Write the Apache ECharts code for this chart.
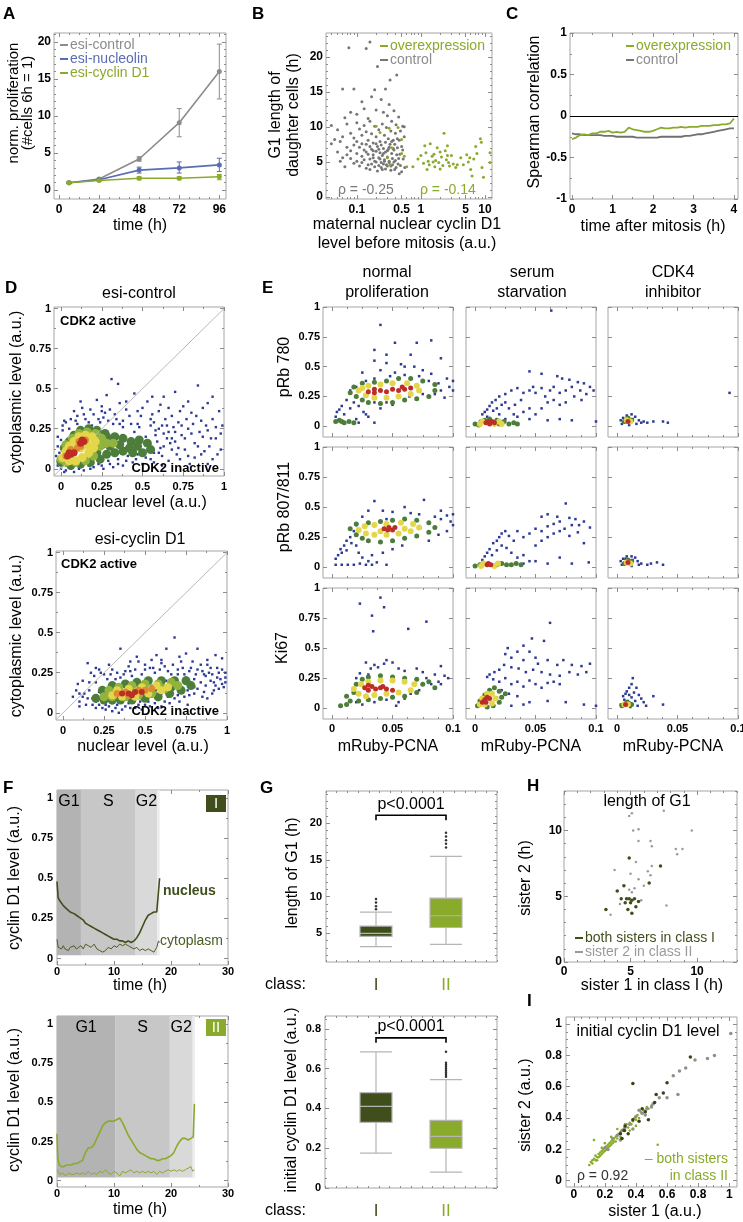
<!DOCTYPE html>
<html><head><meta charset="utf-8">
<script src="https://cdn.jsdelivr.net/npm/echarts@6.0.0/dist/echarts.min.js"></script>
<style>html,body{margin:0;padding:0;background:#fff;}#chart{width:743px;height:1222px;}</style>
</head><body><div id="chart"></div>
<script>
// ================= DATA =================
// A
const timeA = [6, 24, 48, 72, 96];
const ctrlA = [1, 1.5, 4.2, 9.1, 16.0];
const ctrlLoA = [0.9, 1.4, 3.9, 7.2, 12.3];
const ctrlHiA = [1.1, 1.6, 4.5, 11.0, 19.7];
const nucA = [1, 1.4, 2.7, 3.0, 3.4];
const nucLoA = [0.9, 1.3, 2.3, 2.3, 2.5];
const nucHiA = [1.1, 1.5, 3.1, 3.8, 4.3];
const cycA = [1, 1.3, 1.6, 1.6, 1.8];
const cycLoA = [0.9, 1.2, 1.4, 1.4, 1.4];
const cycHiA = [1.1, 1.4, 1.8, 1.8, 2.1];
const ticksAx = [0, 24, 48, 72, 96];
const ticksAy = [0, 5, 10, 15, 20];
// B
const ctrlB = [[0.16,22.1],[0.14,21.2],[0.075,21.3],[0.21,18.6],[0.42,17.4],[0.33,16.7],[0.06,15.4],[0.09,15.4],[0.19,15.3],[0.28,15.4],[0.17,14.3],[0.12,13.6],[0.24,13.9],[0.32,13.2],[0.38,12.3],[0.45,11.4],[0.52,10.1],[0.04,10.2],[0.05,9.6],[0.045,8.2],[0.04,7.6],[0.055,7.9],[0.065,11.3],[0.08,12.1],[0.1,11.8],[0.13,12.6],[0.15,11.2],[0.2,12.4],[0.26,12.1],[0.3,11.6],[0.35,10.8],[0.41,10.3],[0.48,9.4],[0.55,8.6],[0.5,7.2],[0.47,6.1],[0.53,5.4],[0.44,4.7],[0.5,3.6],[0.39,3.9],
[0.07,10.4],[0.08,9.1],[0.09,8.4],[0.1,10.6],[0.11,9.7],[0.12,8.8],[0.13,10.2],[0.14,9.3],[0.15,8.1],[0.16,10.8],[0.17,9.0],[0.18,7.7],[0.19,10.1],[0.2,8.6],[0.22,9.6],[0.23,7.9],[0.25,10.4],[0.27,8.8],[0.29,9.9],[0.31,8.3],[0.34,9.4],[0.37,8.1],[0.4,9.1],[0.43,8.3],
[0.06,8.6],[0.07,7.1],[0.08,6.6],[0.09,7.4],[0.1,6.2],[0.11,7.1],[0.12,5.8],[0.13,6.7],[0.14,7.5],[0.15,6.1],[0.16,5.4],[0.17,6.8],[0.18,6.0],[0.19,5.1],[0.2,6.5],[0.21,7.2],[0.22,5.6],[0.23,6.3],[0.24,4.9],[0.25,5.9],[0.26,6.9],[0.27,5.3],[0.28,6.4],[0.29,4.6],[0.3,5.7],[0.31,6.8],[0.32,5.1],[0.33,7.5],[0.34,4.4],[0.35,6.2],[0.36,5.5],[0.38,6.7],[0.4,5.2],[0.42,6.0],[0.45,5.5],[0.48,4.5],
[0.08,5.5],[0.09,4.8],[0.1,5.1],[0.11,4.4],[0.12,4.9],[0.13,5.3],[0.14,4.1],[0.15,4.6],[0.16,3.9],[0.17,4.7],[0.18,5.6],[0.19,4.3],[0.2,5.0],[0.21,3.7],[0.22,4.5],[0.23,5.4],[0.24,4.2],[0.25,3.9],[0.26,4.7],[0.27,5.1],[0.28,4.0],[0.3,4.4],[0.32,4.9],[0.34,3.8],[0.36,4.6],[0.38,5.0],[0.41,4.2],[0.46,3.3],
[0.05,6.4],[0.06,5.6],[0.07,6.0],[0.055,5.1],[0.065,4.3],
[0.1,7.9],[0.12,7.6],[0.14,6.4],[0.16,7.2],[0.18,6.6],[0.2,7.6],[0.22,6.8],[0.24,7.4],[0.26,6.2],[0.28,7.8],[0.3,6.6],[0.32,7.1],[0.35,7.9],[0.37,6.9],[0.39,7.5],[0.43,7.0],[0.46,8.1],[0.52,6.7],[0.56,4.2],[0.55,10.0]];
const overB = [[0.2,10.1],[0.23,9.2],[0.32,9.8],[0.44,9.9],[0.5,8.2],[0.35,7.0],[0.5,6.2],[0.55,5.8],[0.33,4.6],[0.6,4.3],[0.3,5.6],
[0.75,4.3],[0.9,5.4],[1.0,5.9],[1.1,4.8],[1.15,7.3],[1.2,6.3],[1.3,5.1],[1.35,4.6],[1.4,7.6],[1.5,5.8],[1.6,6.1],[1.65,4.3],[1.7,5.2],[1.8,7.0],[1.9,4.9],[2.0,6.4],[2.1,5.7],[2.2,4.5],[2.3,9.1],[2.4,6.6],[2.5,5.3],[2.6,7.3],[2.7,4.9],[2.8,4.4],[3.0,5.9],[3.2,4.7],[3.5,4.2],[4.2,5.6],[4.6,4.6],[5.2,6.0],[5.5,5.0],[5.8,5.6],[6.0,3.9],[6.3,3.0],[6.7,5.4],[7.2,7.2],[7.5,6.2],[8.5,8.3],[8.8,7.8],[9.5,2.8],[9.0,4.2],[12.0,6.3],[12.0,4.9],[1.25,3.9],[1.55,5.0],[2.0,4.0],[2.6,5.9],[3.7,4.6]];
const ticksBx = [0.1, 0.5, 1, 5, 10];
const ticksBy = [0, 5, 10, 15, 20];
// C
const timeC = [0,0.1,0.2,0.3,0.4,0.5,0.6,0.7,0.8,0.9,1.0,1.1,1.2,1.3,1.4,1.5,1.6,1.7,1.8,1.9,2.0,2.1,2.2,2.3,2.4,2.5,2.6,2.7,2.8,2.9,3.0,3.1,3.2,3.3,3.4,3.5,3.6,3.7,3.8,3.9,4.0];
const overC = [-0.28,-0.26,-0.23,-0.22,-0.23,-0.21,-0.21,-0.19,-0.19,-0.18,-0.2,-0.19,-0.2,-0.19,-0.14,-0.16,-0.17,-0.18,-0.19,-0.19,-0.18,-0.16,-0.14,-0.15,-0.15,-0.14,-0.14,-0.13,-0.14,-0.13,-0.13,-0.13,-0.12,-0.12,-0.12,-0.11,-0.11,-0.1,-0.1,-0.09,-0.03];
const ctrlC = [-0.21,-0.22,-0.22,-0.23,-0.23,-0.23,-0.23,-0.23,-0.24,-0.24,-0.24,-0.25,-0.25,-0.25,-0.25,-0.25,-0.26,-0.26,-0.26,-0.26,-0.26,-0.26,-0.25,-0.25,-0.25,-0.25,-0.25,-0.25,-0.24,-0.24,-0.23,-0.22,-0.22,-0.21,-0.2,-0.19,-0.18,-0.17,-0.16,-0.15,-0.15];
const ticksCx = [0, 1, 2, 3, 4];
const ticksCy = [-1, -0.5, 0, 0.5, 1];
// D
const ticksD = [0, 0.25, 0.5, 0.75, 1];
const dCtrlBlue = [[0.31,0.56],[0.35,0.53],[0.22,0.43],[0.12,0.42],[0.56,0.45],[0.84,0.52],[0.9,0.41],[0.7,0.48],[0.63,0.45],[0.45,0.47],[0.28,0.46],[0.4,0.42],[0.75,0.39],[0.97,0.36],[0.18,0.37],[0.08,0.36],[0.3,0.37],[0.5,0.38],[0.6,0.36],[0.8,0.35],[0.93,0.31],[0.68,0.33],[0.55,0.31],[0.42,0.33],[0.34,0.31],[0.03,0.29],[0.01,0.24],[-0.02,0.2],[0.26,0.32],[0.15,0.31],[0.86,0.3],[0.99,0.27],[0.72,0.29],[0.47,0.28],[0.62,0.27],[0.78,0.25],[0.9,0.24],[0.95,0.19],[0.87,0.2],[0.82,0.16],[0.74,0.21],[0.66,0.23],[0.58,0.24],[0.7,0.17],[0.63,0.14],[0.76,0.12],[0.88,0.11],[0.98,0.12],[0.93,0.06],[0.82,0.07],[0.71,0.09],[0.6,0.1],[0.66,0.05],[0.55,0.06],[0.5,0.03],[0.44,0.04],[0.38,0.02],[0.32,0.01],[0.26,0.0],[0.2,0.01],[0.14,-0.01],[0.08,-0.02],[0.02,-0.02],[-0.02,0.02],[-0.03,0.08],[-0.02,0.14],[0.03,-0.01],[0.11,0.0],[0.17,0.02],[0.23,0.03],[0.29,0.05],[0.35,0.06],[0.41,0.08],[0.47,0.09],[0.53,0.12],[0.59,0.17],[0.65,0.19],[0.52,0.2],[0.45,0.23],[0.38,0.26],[0.32,0.28],[0.24,0.29],[0.19,0.27],[0.1,0.28],[0.05,0.25],[0.0,0.18],[-0.01,0.1],[0.57,0.29],[0.49,0.33],[0.81,0.28],[0.69,0.26],[0.91,0.14],[0.85,0.23],[0.77,0.31],[0.64,0.31],[0.4,0.37],[0.53,0.42],[0.36,0.41],[0.25,0.39],[0.61,0.4],[0.73,0.36],[0.87,0.38],[0.98,0.22],[0.96,0.09],[0.9,0.03],[0.79,0.03],[0.62,0.02],
[0.02,0.3],[0.06,0.31],[0.1,0.33],[0.14,0.34],[0.2,0.34],[0.27,0.35],[0.33,0.34],[0.38,0.3],[0.43,0.28],[0.48,0.26],[0.55,0.27],[0.6,0.25],[0.65,0.27],[0.7,0.23],[0.76,0.19],[0.8,0.22],[0.84,0.14],[0.86,0.09],[0.78,0.08],[0.73,0.06],[0.68,0.12],[0.62,0.08],[0.57,0.04],[0.52,0.07],[0.46,0.06],[0.4,0.05],[0.35,0.03],[0.3,0.03],[0.25,0.02],[0.18,0.0],[0.12,0.01],[0.06,0.0],[0.0,0.0],[-0.02,0.05],[0.01,0.27],[0.09,0.3],[0.17,0.29],[0.23,0.31],[0.29,0.3],[0.36,0.28],[0.58,0.21],[0.63,0.22],[0.68,0.19],[0.72,0.13],[0.67,0.16],[0.61,0.13],[0.57,0.1],[0.92,0.19],[0.95,0.26],[0.89,0.27],[0.83,0.33],[0.74,0.27],[0.47,0.36],[0.56,0.34],[0.66,0.38],[0.78,0.42],[0.93,0.45],[0.25,0.36],[0.13,0.38]];
const dCtrlGreen = [[0.0,0.04],[0.02,0.13],[0.05,0.17],[0.08,0.21],[0.12,0.24],[0.17,0.25],[0.22,0.24],[0.27,0.22],[0.3,0.18],[0.33,0.2],[0.38,0.19],[0.43,0.17],[0.48,0.18],[0.53,0.16],[0.55,0.12],[0.5,0.1],[0.44,0.1],[0.38,0.11],[0.33,0.1],[0.28,0.09],[0.24,0.06],[0.18,0.04],[0.12,0.03],[0.06,0.02],[0.3,0.14],[0.36,0.15],[0.42,0.13],[0.47,0.14],[0.25,0.15],[0.22,0.1],[0.28,0.2]];
const dCtrlLight = [[0.0,0.06],[0.03,0.15],[0.07,0.19],[0.11,0.22],[0.16,0.23],[0.21,0.22],[0.25,0.19],[0.24,0.14],[0.2,0.08],[0.15,0.05],[0.09,0.04],[0.03,0.04],[0.28,0.16],[0.32,0.16]];
const dCtrlYellow = [[0.01,0.07],[0.03,0.11],[0.05,0.14],[0.08,0.17],[0.11,0.2],[0.15,0.21],[0.19,0.2],[0.21,0.17],[0.2,0.13],[0.17,0.1],[0.13,0.07],[0.09,0.05],[0.05,0.05],[0.12,0.13],[0.16,0.15],[0.07,0.1]];
const dCtrlOrange = [[0.03,0.08],[0.07,0.1],[0.1,0.13],[0.12,0.14],[0.15,0.18],[0.11,0.17],[0.06,0.12]];
const dCtrlRed = [[0.04,0.08],[0.06,0.09],[0.05,0.1],[0.12,0.16],[0.14,0.17],[0.13,0.18],[0.08,0.1]];
const dCycBlue = [[0.68,0.47],[0.63,0.4],[0.82,0.4],[0.35,0.4],[0.15,0.31],[0.45,0.35],[0.57,0.36],[0.93,0.36],[0.97,0.34],[0.75,0.37],[0.88,0.33],[0.72,0.32],[0.6,0.31],[0.5,0.3],[0.4,0.29],[0.3,0.27],[0.22,0.27],[0.17,0.25],[0.12,0.2],[0.08,0.14],[0.06,0.1],[0.1,0.07],[0.14,0.05],[0.2,0.03],[0.26,0.02],[0.32,0.03],[0.38,0.04],[0.44,0.03],[0.5,0.05],[0.56,0.06],[0.62,0.07],[0.68,0.09],[0.74,0.1],[0.8,0.12],[0.86,0.13],[0.92,0.14],[0.98,0.16],[0.99,0.22],[0.95,0.25],[0.9,0.28],[0.84,0.3],[0.78,0.28],[0.7,0.27],[0.64,0.26],[0.56,0.25],[0.48,0.24],[0.42,0.23],[0.35,0.22],[0.27,0.21],[0.2,0.19],[0.16,0.14],[0.18,0.09],[0.24,0.07],[0.3,0.06],[0.36,0.07],[0.42,0.08],[0.48,0.09],[0.54,0.1],[0.6,0.12],[0.66,0.13],[0.72,0.15],[0.78,0.17],[0.84,0.19],[0.9,0.2],[0.96,0.21],[0.93,0.17],[0.87,0.23],[0.81,0.24],[0.75,0.22],[0.69,0.21],[0.63,0.2],[0.57,0.19],[0.51,0.19],[0.45,0.18],[0.39,0.17],[0.33,0.17],[0.27,0.15],[0.22,0.13],[0.25,0.24],[0.33,0.25],[0.38,0.26],[0.53,0.28],[0.67,0.3],[0.74,0.24],[0.85,0.26],[0.97,0.27],[0.91,0.24],[0.8,0.21],[0.58,0.03],[0.46,0.05],[0.34,0.0],[0.28,0.04],[0.22,0.05],[0.12,0.1],[0.09,0.18],[0.6,0.33],[0.46,0.32],[0.1,0.12],[0.76,0.05],[0.88,0.09],
[0.1,0.04],[0.13,0.12],[0.16,0.19],[0.19,0.23],[0.23,0.25],[0.29,0.24],[0.32,0.21],[0.37,0.24],[0.41,0.26],[0.44,0.27],[0.5,0.27],[0.55,0.28],[0.59,0.27],[0.62,0.29],[0.66,0.24],[0.7,0.24],[0.73,0.28],[0.77,0.26],[0.82,0.27],[0.86,0.24],[0.89,0.25],[0.94,0.22],[0.97,0.18],[0.99,0.19],[0.95,0.15],[0.91,0.12],[0.85,0.1],[0.82,0.15],[0.77,0.11],[0.71,0.07],[0.65,0.06],[0.6,0.04],[0.53,0.04],[0.48,0.02],[0.41,0.03],[0.36,0.02],[0.3,0.01],[0.24,0.03],[0.18,0.05],[0.15,0.09],[0.2,0.07],[0.26,0.05],[0.33,0.05],[0.4,0.06],[0.47,0.07],[0.52,0.07],[0.58,0.08],[0.64,0.1],[0.7,0.11],[0.76,0.14],[0.8,0.16],[0.87,0.17],[0.92,0.19],[0.99,0.25],[0.94,0.28],[0.88,0.3],[0.79,0.32],[0.71,0.35],[0.54,0.33],[0.41,0.32],[0.28,0.3],[0.2,0.28]];
const dCycGreen = [[0.2,0.09],[0.25,0.08],[0.3,0.08],[0.35,0.08],[0.42,0.08],[0.5,0.09],[0.58,0.1],[0.65,0.12],[0.72,0.14],[0.78,0.17],[0.75,0.2],[0.68,0.2],[0.6,0.2],[0.52,0.2],[0.45,0.19],[0.38,0.18],[0.3,0.17],[0.24,0.14],[0.27,0.12],[0.4,0.13],[0.55,0.15],[0.66,0.16]];
const dCycLight = [[0.25,0.1],[0.3,0.1],[0.38,0.1],[0.46,0.11],[0.54,0.12],[0.62,0.15],[0.7,0.17],[0.66,0.19],[0.58,0.18],[0.5,0.18],[0.42,0.17],[0.34,0.16],[0.28,0.14]];
const dCycYellow = [[0.3,0.11],[0.36,0.1],[0.44,0.1],[0.52,0.12],[0.6,0.14],[0.64,0.16],[0.57,0.17],[0.48,0.16],[0.4,0.15],[0.33,0.14],[0.45,0.13]];
const dCycOrange = [[0.33,0.12],[0.38,0.13],[0.46,0.14],[0.5,0.14],[0.54,0.15],[0.4,0.11]];
const dCycRed = [[0.36,0.12],[0.4,0.12],[0.44,0.13],[0.48,0.13],[0.42,0.11]];
// E
const ticksEx = [0, 0.05, 0.1];
const ticksEy = [0, 0.25, 0.5, 0.75, 1];
const e780NormBlue = [[0.04,0.85],[0.052,0.7],[0.035,0.64],[0.07,0.7],[0.082,0.72],[0.045,0.6],[0.065,0.6],[0.057,0.52],[0.06,0.5],[0.09,0.57],[0.045,0.53],[0.035,0.55],[0.025,0.45],[0.04,0.47],[0.052,0.45],[0.068,0.5],[0.075,0.47],[0.082,0.44],[0.095,0.4],[0.1,0.38],[0.088,0.36],[0.097,0.33],[0.09,0.3],[0.08,0.38],[0.072,0.42],[0.06,0.43],[0.048,0.42],[0.035,0.4],[0.028,0.38],[0.02,0.33],[0.015,0.3],[0.012,0.22],[0.008,0.17],[0.004,0.12],[0.003,0.08],[0.006,0.14],[0.01,0.1],[0.015,0.15],[0.018,0.2],[0.022,0.17],[0.026,0.12],[0.03,0.08],[0.035,0.2],[0.04,0.15],[0.045,0.2],[0.05,0.18],[0.022,0.03],[0.035,0.03],[0.064,0.25],[0.075,0.27],[0.085,0.27],[0.093,0.24],[0.1,0.3],[0.02,0.06],[0.028,0.1]];
const e780NormGreen = [[0.015,0.28],[0.02,0.25],[0.025,0.22],[0.03,0.2],[0.04,0.19],[0.05,0.2],[0.06,0.22],[0.07,0.23],[0.08,0.25],[0.085,0.3],[0.085,0.35],[0.075,0.38],[0.065,0.4],[0.055,0.4],[0.045,0.38],[0.035,0.37],[0.025,0.36],[0.018,0.33],[0.003,0.04],[0.006,0.05],[0.01,0.03],[0.014,0.04],[0.018,0.03],[0.008,0.04]];
const e780NormYellow = [[0.022,0.3],[0.028,0.26],[0.035,0.24],[0.045,0.24],[0.055,0.25],[0.065,0.27],[0.072,0.3],[0.07,0.34],[0.062,0.36],[0.05,0.36],[0.04,0.35],[0.03,0.34],[0.025,0.32]];
const e780NormRed = [[0.03,0.29],[0.035,0.28],[0.04,0.3],[0.045,0.29],[0.05,0.31],[0.055,0.3],[0.06,0.31],[0.065,0.32],[0.035,0.31],[0.058,0.33]];
const e780SerumBlue = [[0.063,0.97],[0.045,0.46],[0.055,0.44],[0.068,0.42],[0.072,0.4],[0.078,0.39],[0.085,0.37],[0.09,0.36],[0.095,0.33],[0.098,0.3],[0.087,0.3],[0.08,0.33],[0.075,0.3],[0.07,0.28],[0.065,0.33],[0.062,0.3],[0.058,0.25],[0.055,0.32],[0.05,0.28],[0.048,0.33],[0.045,0.3],[0.04,0.28],[0.035,0.32],[0.03,0.3],[0.025,0.27],[0.02,0.25],[0.017,0.22],[0.014,0.2],[0.012,0.17],[0.01,0.14],[0.008,0.12],[0.006,0.1],[0.015,0.13],[0.018,0.15],[0.022,0.18],[0.025,0.2],[0.028,0.15],[0.032,0.1],[0.035,0.08],[0.04,0.12],[0.045,0.06],[0.05,0.1],[0.055,0.15],[0.06,0.2],[0.065,0.22],[0.07,0.18],[0.075,0.2],[0.082,0.25],[0.088,0.22],[0.092,0.27],[0.1,0.04],[0.06,0.05],[0.07,0.06],[0.08,0.05],[0.045,0.15],[0.038,0.22],[0.033,0.18],[0.02,0.1],[0.01,0.08],[0.025,0.06]];
const e780SerumGreen = [[0.0,0.02],[0.003,0.01],[0.005,0.04],[0.02,0.02],[0.024,0.04],[0.028,0.02],[0.032,0.03],[0.035,0.02],[0.012,0.06],[0.018,0.05],[0.008,0.05]];
const e780SerumYellow = [[0.004,0.02],[0.006,0.04],[0.016,0.02],[0.02,0.04],[0.022,0.02]];
const e780SerumRed = [[0.009,0.03],[0.012,0.02],[0.014,0.04],[0.016,0.03],[0.011,0.04]];
const e780CdkBlue = [[0.093,0.28],[0.042,0.03],[0.038,0.04],[0.03,0.04],[0.025,0.03],[0.02,0.03],[0.018,0.05],[0.015,0.08],[0.012,0.1],[0.008,0.09],[0.005,0.07],[0.003,0.05],[0.004,0.02],[0.01,0.01],[0.016,0.02],[0.022,0.04],[0.013,0.06],[0.007,0.06]];
const e780CdkGreen = [[0.006,0.04],[0.012,0.05],[0.009,0.07]];
const e780CdkYellow = [[0.008,0.05],[0.011,0.04]];
const e780CdkRed = [[0.009,0.04]];
const e807NormBlue = [[0.035,0.55],[0.076,0.56],[0.06,0.5],[0.05,0.46],[0.042,0.47],[0.03,0.47],[0.065,0.45],[0.072,0.44],[0.09,0.47],[0.095,0.43],[0.1,0.44],[0.098,0.38],[0.09,0.4],[0.085,0.42],[0.025,0.42],[0.02,0.35],[0.018,0.3],[0.015,0.25],[0.012,0.22],[0.01,0.18],[0.007,0.15],[0.005,0.1],[0.003,0.07],[0.008,0.12],[0.012,0.14],[0.016,0.2],[0.02,0.18],[0.022,0.12],[0.025,0.08],[0.03,0.05],[0.033,0.1],[0.037,0.04],[0.045,0.02],[0.042,0.12],[0.05,0.15],[0.058,0.18],[0.003,0.02],[0.008,0.02],[0.013,0.02],[0.018,0.02],[0.023,0.03],[0.028,0.02],[0.033,0.02],[0.06,0.24],[0.08,0.22],[0.088,0.27],[0.095,0.3],[0.1,0.35],[0.045,0.4]];
const e807NormGreen = [[0.015,0.32],[0.02,0.27],[0.025,0.24],[0.03,0.22],[0.04,0.21],[0.05,0.22],[0.06,0.24],[0.07,0.26],[0.08,0.29],[0.085,0.33],[0.08,0.37],[0.07,0.39],[0.06,0.4],[0.05,0.39],[0.04,0.38],[0.03,0.37],[0.02,0.36]];
const e807NormYellow = [[0.022,0.31],[0.028,0.28],[0.035,0.27],[0.045,0.27],[0.055,0.28],[0.065,0.3],[0.072,0.33],[0.067,0.36],[0.057,0.37],[0.045,0.36],[0.035,0.35],[0.027,0.34],[0.04,0.3],[0.06,0.32]];
const e807NormRed = [[0.043,0.32],[0.047,0.33],[0.05,0.31],[0.052,0.33],[0.046,0.31]];
const e807SerumBlue = [[0.075,0.53],[0.06,0.44],[0.068,0.42],[0.055,0.42],[0.078,0.41],[0.083,0.4],[0.09,0.38],[0.086,0.35],[0.095,0.33],[0.08,0.35],[0.074,0.32],[0.07,0.38],[0.065,0.36],[0.06,0.34],[0.055,0.3],[0.05,0.32],[0.045,0.28],[0.04,0.25],[0.035,0.3],[0.032,0.22],[0.028,0.26],[0.025,0.3],[0.022,0.28],[0.02,0.25],[0.018,0.22],[0.015,0.2],[0.012,0.15],[0.01,0.12],[0.008,0.09],[0.006,0.06],[0.014,0.1],[0.018,0.14],[0.022,0.18],[0.026,0.16],[0.03,0.12],[0.035,0.08],[0.04,0.1],[0.045,0.05],[0.05,0.18],[0.055,0.22],[0.06,0.25],[0.065,0.28],[0.07,0.3],[0.078,0.26],[0.085,0.29],[0.09,0.2],[0.07,0.08],[0.06,0.03],[0.08,0.03],[0.094,0.04],[0.05,0.05],[0.04,0.03]];
const e807SerumGreen = [[0.0,0.01],[0.004,0.02],[0.018,0.02],[0.022,0.03],[0.026,0.02],[0.03,0.02],[0.034,0.03],[0.038,0.02]];
const e807SerumYellow = [[0.005,0.01],[0.007,0.03],[0.016,0.01],[0.019,0.03]];
const e807SerumRed = [[0.01,0.02],[0.013,0.02],[0.011,0.03]];
const e807CdkBlue = [[0.038,0.02],[0.033,0.04],[0.028,0.03],[0.025,0.02],[0.02,0.03],[0.017,0.05],[0.015,0.08],[0.012,0.09],[0.008,0.09],[0.005,0.07],[0.003,0.05],[0.004,0.02],[0.012,0.01],[0.018,0.02],[0.013,0.06],[0.007,0.07]];
const e807CdkGreen = [[0.006,0.03],[0.012,0.05],[0.009,0.06]];
const e807CdkYellow = [[0.008,0.04],[0.011,0.03]];
const e807CdkRed = [[0.009,0.04]];
const eKiNormBlue = [[0.023,0.87],[0.04,0.92],[0.043,0.84],[0.033,0.77],[0.034,0.64],[0.063,0.66],[0.078,0.72],[0.09,0.35],[0.093,0.27],[0.096,0.25],[0.028,0.38],[0.035,0.36],[0.038,0.34],[0.045,0.4],[0.05,0.38],[0.043,0.37],[0.032,0.33],[0.055,0.33],[0.06,0.31],[0.07,0.33],[0.075,0.3],[0.085,0.28],[0.088,0.22],[0.082,0.2],[0.078,0.25],[0.072,0.15],[0.065,0.12],[0.06,0.08],[0.055,0.05],[0.05,0.1],[0.045,0.07],[0.035,0.05],[0.025,0.03],[0.02,0.05],[0.09,0.2],[0.02,0.25],[0.023,0.29],[0.03,0.28],[0.053,0.02]];
const eKiNormGreen = [[0.007,0.02],[0.012,0.03],[0.015,0.06],[0.012,0.1],[0.018,0.13],[0.02,0.2],[0.025,0.24],[0.03,0.26],[0.04,0.27],[0.05,0.26],[0.06,0.25],[0.07,0.24],[0.075,0.2],[0.07,0.13],[0.06,0.1],[0.05,0.09],[0.04,0.08],[0.03,0.07],[0.022,0.06],[0.08,0.22],[0.085,0.17]];
const eKiNormYellow = [[0.018,0.16],[0.022,0.12],[0.028,0.1],[0.035,0.11],[0.045,0.12],[0.055,0.13],[0.065,0.15],[0.068,0.2],[0.06,0.22],[0.05,0.23],[0.04,0.23],[0.03,0.22],[0.024,0.2]];
const eKiNormRed = [[0.027,0.17],[0.03,0.15],[0.033,0.18],[0.036,0.16],[0.04,0.17],[0.045,0.16],[0.05,0.15],[0.042,0.18],[0.03,0.19]];
const eKiSerumBlue = [[0.062,0.71],[0.047,0.58],[0.057,0.56],[0.04,0.52],[0.035,0.47],[0.045,0.47],[0.027,0.5],[0.025,0.45],[0.03,0.42],[0.04,0.4],[0.05,0.42],[0.052,0.37],[0.06,0.4],[0.068,0.36],[0.073,0.4],[0.08,0.36],[0.088,0.35],[0.092,0.3],[0.095,0.37],[0.085,0.28],[0.078,0.3],[0.07,0.27],[0.062,0.28],[0.055,0.3],[0.048,0.32],[0.042,0.3],[0.036,0.33],[0.03,0.34],[0.024,0.36],[0.02,0.32],[0.016,0.3],[0.012,0.28],[0.01,0.26],[0.015,0.24],[0.02,0.22],[0.025,0.25],[0.03,0.2],[0.035,0.22],[0.04,0.18],[0.045,0.23],[0.05,0.2],[0.055,0.17],[0.06,0.21],[0.065,0.22],[0.07,0.2],[0.075,0.05],[0.09,0.03],[0.1,0.02],[0.06,0.06],[0.045,0.05],[0.035,0.1],[0.028,0.12],[0.022,0.15],[0.018,0.09],[0.04,0.03],[0.03,0.02]];
const eKiSerumGreen = [[0.002,0.02],[0.004,0.06],[0.008,0.11],[0.012,0.15],[0.016,0.17],[0.02,0.14],[0.022,0.09],[0.02,0.05],[0.015,0.02],[0.025,0.12],[0.01,0.01]];
const eKiSerumYellow = [[0.004,0.03],[0.006,0.08],[0.01,0.12],[0.014,0.12],[0.017,0.08],[0.014,0.04],[0.008,0.03]];
const eKiSerumRed = [[0.006,0.05],[0.008,0.07],[0.01,0.09],[0.012,0.08],[0.009,0.05]];
const eKiCdkBlue = [[0.013,0.25],[0.012,0.2],[0.016,0.17],[0.01,0.17],[0.008,0.14],[0.014,0.13],[0.018,0.11],[0.02,0.08],[0.022,0.05],[0.024,0.02],[0.03,0.1],[0.038,0.03],[0.003,0.03],[0.005,0.1],[0.007,0.12],[0.01,0.11],[0.012,0.09],[0.015,0.06],[0.017,0.02],[0.011,0.01],[0.006,0.07],[0.009,0.06]];
const eKiCdkGreen = [[0.004,0.02],[0.007,0.03],[0.01,0.04],[0.008,0.05],[0.012,0.03]];
const eKiCdkYellow = [[0.006,0.03],[0.009,0.03]];
const eKiCdkRed = [[0.007,0.03]];
// F
const ticksFx = [0, 10, 20, 30];
const ticksFy = [0, 0.25, 0.5, 0.75, 1];
const phaseNames = ['G1', 'S', 'G2', ''];
const phaseBoundsI = [0, 4.2, 13.8, 17.6, 18.0];
const phaseBoundsII = [0, 10.2, 19.8, 23.8, 24.2];
const nucI = [[0,0.48],[0.2,0.38],[0.5,0.36],[0.8,0.35],[1.1,0.33],[1.4,0.34],[1.7,0.31],[2.0,0.3],[2.3,0.29],[2.6,0.3],[3.0,0.28],[3.4,0.27],[3.8,0.26],[4.2,0.25],[4.6,0.24],[5.0,0.22],[5.5,0.21],[6.0,0.2],[6.5,0.19],[7.0,0.18],[7.5,0.17],[8.0,0.16],[8.5,0.15],[9.0,0.14],[9.5,0.13],[10.0,0.12],[10.5,0.12],[11.0,0.11],[11.5,0.11],[12.0,0.1],[12.5,0.11],[13.0,0.1],[13.5,0.11],[14.0,0.13],[14.5,0.16],[15.0,0.2],[15.5,0.24],[16.0,0.27],[16.5,0.28],[17.0,0.29],[17.5,0.29],[17.8,0.3],[18.0,0.5]];
const cytI = [[0,0.12],[0.2,0.07],[0.5,0.08],[0.8,0.06],[1.1,0.08],[1.4,0.06],[1.7,0.07],[2.0,0.05],[2.3,0.07],[2.6,0.06],[3.0,0.08],[3.4,0.06],[3.8,0.07],[4.2,0.08],[4.6,0.06],[5.0,0.09],[5.5,0.08],[6.0,0.07],[6.5,0.09],[7.0,0.06],[7.5,0.05],[8.0,0.04],[8.5,0.05],[9.0,0.07],[9.5,0.06],[10.0,0.08],[10.5,0.07],[11.0,0.09],[11.5,0.08],[12.0,0.09],[12.5,0.08],[13.0,0.07],[13.5,0.06],[14.0,0.07],[14.5,0.05],[15.0,0.06],[15.5,0.05],[16.0,0.06],[16.5,0.05],[17.0,0.04],[17.5,0.07],[17.8,0.11],[18.0,0.1]];
const nucII = [[0,0.3],[0.15,0.14],[0.4,0.1],[0.8,0.09],[1.2,0.09],[1.6,0.1],[2.0,0.1],[2.5,0.1],[3.0,0.11],[3.5,0.11],[4.0,0.12],[4.5,0.13],[5.0,0.18],[5.5,0.21],[6.0,0.21],[6.5,0.23],[7.0,0.27],[7.5,0.31],[8.0,0.35],[8.5,0.37],[9.0,0.38],[9.5,0.38],[10.0,0.38],[10.5,0.39],[11.0,0.4],[11.5,0.37],[12.0,0.33],[12.5,0.29],[13.0,0.26],[13.5,0.23],[14.0,0.2],[14.5,0.18],[15.0,0.17],[15.5,0.16],[16.0,0.15],[16.5,0.14],[17.0,0.14],[17.5,0.13],[18.0,0.13],[18.5,0.14],[19.0,0.14],[19.5,0.15],[20.0,0.16],[20.5,0.18],[21.0,0.22],[21.5,0.25],[22.0,0.27],[22.5,0.27],[23.0,0.26],[23.5,0.27],[23.9,0.28],[24.1,0.49]];
const cytII = [[0,0.07],[0.5,0.04],[1,0.05],[1.5,0.03],[2,0.05],[2.5,0.04],[3,0.04],[3.5,0.05],[4,0.04],[4.5,0.05],[5,0.04],[5.5,0.06],[6,0.04],[6.5,0.05],[7,0.04],[7.5,0.06],[8,0.05],[8.5,0.07],[9,0.05],[9.5,0.04],[10,0.06],[10.5,0.05],[11,0.03],[11.5,0.06],[12,0.05],[12.5,0.06],[13,0.07],[13.5,0.05],[14,0.06],[14.5,0.05],[15,0.06],[15.5,0.05],[16,0.06],[16.5,0.05],[17,0.06],[17.5,0.04],[18,0.06],[18.5,0.05],[19,0.06],[19.5,0.07],[20,0.06],[20.5,0.07],[21,0.06],[21.5,0.07],[22,0.06],[22.5,0.07],[23,0.08],[23.5,0.09],[23.8,0.06],[24.1,0.07]];
// G
const classes = ['I', 'II'];
const g1Box = [[3.2, 4.6, 5.0, 6.0, 7.9], [3.5, 5.8, 7.4, 9.8, 15.5]];
const g1Outliers = [[0,8.3],[0,8.7],[0,9.2],[0,9.7],[1,16.7],[1,17.2],[1,17.7],[1,18.2],[1,18.7]];
const cycBox = [[0.175, 0.33, 0.41, 0.48, 0.685], [0.08, 0.2, 0.26, 0.34, 0.545]];
const cycOutliers = [[0,0.78],[1,0.56],[1,0.57],[1,0.58],[1,0.59],[1,0.6],[1,0.61],[1,0.62],[1,0.63],[1,0.685]];
const ticksG1y = [5, 10, 15, 20];
const ticksG2y = [0, 0.2, 0.4, 0.6, 0.8];
const pText = 'p<0.0001';
// H
const hBothI = [[4.9,7.9],[7.25,7.3],[6.4,6.0],[4.5,5.8],[4.0,5.4],[4.7,4.8],[4.9,4.8],[5.1,4.7],[5.3,4.8],[4.6,4.5],[5.0,4.5],[5.4,4.2],[4.8,4.0],[5.1,3.7],[3.15,4.0],[4.3,4.8],[5.6,4.6]];
const hSis2II = [[5.1,11.3],[4.9,11.1],[7.5,11.5],[5.2,10.0],[5.6,10.1],[9.6,10.0],[5.6,9.2],[6.5,9.2],[6.6,8.8],[8.4,8.6],[8.5,8.2],[8.9,8.6],[5.4,7.6],[6.6,7.3],[6.3,6.9],[6.5,6.6],[3.8,7.0],[5.0,6.7],[5.6,6.3],[5.3,5.6],[5.1,5.3],[4.9,5.5],[6.0,5.8],[7.7,4.3],[3.5,3.6],[4.2,4.4],[5.8,4.7]];
const ticksH = [0, 5, 10];
// I
const iBothII = [[0.1,0.1],[0.11,0.12],[0.12,0.13],[0.13,0.14],[0.14,0.13],[0.14,0.16],[0.15,0.15],[0.16,0.17],[0.16,0.15],[0.17,0.18],[0.17,0.16],[0.18,0.19],[0.18,0.17],[0.19,0.2],[0.19,0.18],[0.2,0.21],[0.2,0.19],[0.21,0.22],[0.21,0.2],[0.22,0.23],[0.22,0.21],[0.23,0.24],[0.23,0.22],[0.24,0.25],[0.24,0.23],[0.25,0.26],[0.25,0.24],[0.26,0.27],[0.26,0.25],[0.27,0.28],[0.28,0.29],[0.28,0.27],[0.29,0.3],[0.3,0.31],[0.3,0.28],[0.31,0.32],[0.32,0.33],[0.33,0.32],[0.34,0.36],[0.35,0.34],[0.36,0.37],[0.37,0.36],[0.38,0.38],[0.39,0.4],[0.4,0.39],[0.41,0.42],[0.42,0.4],[0.43,0.44],[0.44,0.43],[0.45,0.45],[0.46,0.44],[0.47,0.47],[0.48,0.46],[0.5,0.48],[0.13,0.26],[0.54,0.23],[0.15,0.13],[0.2,0.24],[0.27,0.25],[0.33,0.36],[0.36,0.32],[0.4,0.35],[0.28,0.33],[0.24,0.28],[0.18,0.21],[0.12,0.11]];
const iMixed = [[1.01,0.94],[0.905,0.8],[0.86,0.78],[0.78,0.77],[0.72,0.72],[0.68,0.7],[0.64,0.67],[0.67,0.55],[0.6,0.53],[0.51,0.49],[0.5,0.47],[0.47,0.46],[0.44,0.43],[0.42,0.45],[0.36,0.36],[0.33,0.34],[0.31,0.32],[0.28,0.29],[0.25,0.27],[0.22,0.2],[0.2,0.21],[0.4,0.41],[0.46,0.42],[0.38,0.33],[0.55,0.53],[0.3,0.26]];
const iBothI = [[0.38,0.62],[0.75,0.79],[0.6,0.625],[0.576,0.56],[0.53,0.55],[0.44,0.46],[0.38,0.39],[0.31,0.27],[0.325,0.32],[0.48,0.39],[0.46,0.44],[0.42,0.38],[0.35,0.3],[0.3,0.3],[0.52,0.5],[0.33,0.35]];
const ticksI = [0, 0.2, 0.4, 0.6, 0.8, 1];

// ================= STYLE / BUILD =================
const FONT = '"Liberation Sans", Arial, Helvetica, sans-serif';
const C_GRAY = '#8c8c8c', C_BLUE = '#5a6cb4', C_GREEN = '#8aaa2b', C_OLIVE = '#3f4e1a';
const C_DB = '#2d3a94', C_DG = '#4c7d3b', C_DL = '#93b33f', C_DY = '#e3d64b', C_DO = '#de8a31', C_DR = '#bd2d27';
const FRAME = '#a6a6a6', TICK = '#8c8c8c';

const grids = [], xAxes = [], yAxes = [], series = [], graphics = [];
function steps(a, b, s) { const out = []; for (let v = a; v <= b + 1e-9; v += s) out.push(+v.toFixed(6)); return out; }

function addGrid(b) {
  grids.push({left: b[0], top: b[1], width: b[2] - b[0], height: b[3] - b[1], show: true,
    borderColor: FRAME, borderWidth: 1, backgroundColor: 'transparent', containLabel: false, outerBoundsMode: 'none'});
  return grids.length - 1;
}
function mkAxis(gi, pos, r, o, main, tickLen) {
  const a = {type: o.type || 'value', gridIndex: gi, position: pos, min: r[0], max: r[1],
    axisLine: {show: false, onZero: false}, splitLine: {show: false},
    axisTick: {show: true, inside: true, length: tickLen || 4, lineStyle: {color: TICK}},
    axisLabel: {show: main && !!o.labels, fontFamily: FONT, fontWeight: 'bold', fontSize: o.fs || 12, color: '#000', margin: o.margin == null ? 4 : o.margin, hideOverlap: false}};
  if (o.logBase) a.logBase = o.logBase;
  if (o.vals) { a.axisTick.customValues = o.vals; a.axisLabel.customValues = o.vals; }
  return a;
}
function addAxes(gi, xr, yr, xo, yo) {
  const xi = xAxes.length, yi = yAxes.length;
  xAxes.push(mkAxis(gi, 'bottom', xr, xo, true));
  xAxes.push(mkAxis(gi, 'top', xr, xo, false));
  yAxes.push(mkAxis(gi, 'left', yr, yo, true));
  yAxes.push(mkAxis(gi, 'right', yr, yo, false));
  if (xo.minor) ['bottom', 'top'].forEach(p => xAxes.push(mkAxis(gi, p, xr, {type: xo.type, logBase: xo.logBase, vals: xo.minor}, false, 2)));
  if (yo.minor) ['left', 'right'].forEach(p => yAxes.push(mkAxis(gi, p, yr, {vals: yo.minor}, false, 2)));
  return [xi, yi];
}
function scatter(ax, data, color, size, z, name, sym) {
  series.push({type: 'scatter', name, xAxisIndex: ax[0], yAxisIndex: ax[1], data, symbol: sym || 'circle',
    symbolSize: size, itemStyle: {color, opacity: 1}, z: z || 2, silent: true, animation: false});
}
// layers: [data, color, size]
function density(ax, layers) {
  layers.forEach((l, i) => scatter(ax, l[0], l[1], l[2], 2 + i, undefined, i === 0 ? 'rect' : 'circle'));
}
function T(x, y, text, o) {
  o = o || {};
  graphics.push({type: 'text', x, y, rotation: o.rot || 0, z: 100, silent: true,
    style: {text, fill: o.color || '#000', fontFamily: FONT, fontSize: o.size || 16, fontWeight: o.bold ? 'bold' : 'normal',
      textAlign: o.align || 'center', align: o.align || 'center', textVerticalAlign: o.va || 'middle', verticalAlign: o.va || 'middle',
      lineHeight: o.lh || Math.round((o.size || 16) * 1.2)}});
}
const VERT = Math.PI / 2;

// ----- A -----
{
  const gi = addGrid([54, 33, 226, 199]);
  const ax = addAxes(gi, [-3, 100], [-1.2, 21.2], {labels: true, vals: ticksAx, margin: 5, minor: steps(0, 96, 6)}, {labels: true, vals: ticksAy, margin: 3, minor: steps(0, 21, 1)});
  const sets = [['esi-control', ctrlA, ctrlLoA, ctrlHiA, C_GRAY], ['esi-nucleolin', nucA, nucLoA, nucHiA, C_BLUE], ['esi-cyclin D1', cycA, cycLoA, cycHiA, C_GREEN]];
  sets.forEach(s => {
    series.push({type: 'line', name: s[0], xAxisIndex: ax[0], yAxisIndex: ax[1], data: timeA.map((t, i) => [t, s[1][i]]),
      symbol: 'circle', symbolSize: 5, lineStyle: {width: 1.6, color: s[4]}, itemStyle: {color: s[4]}, z: 4, animation: false});
    series.push({type: 'custom', xAxisIndex: ax[0], yAxisIndex: ax[1], data: timeA.map((t, i) => [t, s[2][i], s[3][i]]),
      itemStyle: {color: s[4]}, z: 3, animation: false, silent: true,
      renderItem: (p, api) => {
        const lo = api.coord([api.value(0), api.value(1)]), hi = api.coord([api.value(0), api.value(2)]);
        const c = s[4], w = 2.5;
        return {type: 'group', children: [
          {type: 'line', shape: {x1: lo[0], y1: lo[1], x2: hi[0], y2: hi[1]}, style: {stroke: c, lineWidth: 1}},
          {type: 'line', shape: {x1: lo[0] - w, y1: lo[1], x2: lo[0] + w, y2: lo[1]}, style: {stroke: c, lineWidth: 1}},
          {type: 'line', shape: {x1: hi[0] - w, y1: hi[1], x2: hi[0] + w, y2: hi[1]}, style: {stroke: c, lineWidth: 1}}]};
      }});
  });
}
// ----- B -----
{
  const gi = addGrid([326, 33, 492, 199]);
  const bMinor = [0.04,0.05,0.06,0.07,0.08,0.09,0.2,0.3,0.4,0.6,0.7,0.8,0.9,2,3,4,6,7,8,9];
  const ax = addAxes(gi, [0.033, 12.9], [-0.3, 23.4], {type: 'log', logBase: 10, labels: true, vals: ticksBx, margin: 5, minor: bMinor}, {labels: true, vals: ticksBy, margin: 3, minor: steps(0, 23, 1)});
  scatter(ax, ctrlB, '#767676', 3, 3, 'control');
  scatter(ax, overB, C_GREEN, 3, 4, 'overexpression');
}
// ----- C -----
{
  const gi = addGrid([570, 33, 738, 199]);
  const ax = addAxes(gi, [-0.05, 4.1], [-1, 1], {labels: true, vals: ticksCx, margin: 5, minor: steps(0, 4, 0.5)}, {labels: true, vals: ticksCy, margin: 3, minor: steps(-1, 1, 0.25)});
  series.push({type: 'line', name: 'control', xAxisIndex: ax[0], yAxisIndex: ax[1], data: timeC.map((t, i) => [t, ctrlC[i]]),
    symbol: 'none', lineStyle: {width: 1.8, color: '#707070'}, itemStyle: {color: '#707070'}, z: 3, animation: false,
    markLine: {silent: true, symbol: 'none', label: {show: false}, lineStyle: {color: '#000', width: 1, type: 'solid'}, data: [{yAxis: 0}], animation: false}});
  series.push({type: 'line', name: 'overexpression', xAxisIndex: ax[0], yAxisIndex: ax[1], data: timeC.map((t, i) => [t, overC[i]]),
    symbol: 'none', lineStyle: {width: 1.8, color: C_GREEN}, itemStyle: {color: C_GREEN}, z: 4, animation: false});
}
// ----- D -----
function dPanel(box, layers) {
  const gi = addGrid(box);
  const ax = addAxes(gi, [-0.043, 1.0], [-0.045, 1.01], {labels: true, vals: ticksD, fs: 11, margin: 5, minor: steps(0, 1, 0.125)}, {labels: true, vals: ticksD, fs: 11, margin: 3, minor: steps(0, 1, 0.125)});
  density(ax, layers);
  series.push({type: 'line', xAxisIndex: ax[0], yAxisIndex: ax[1], data: [], z: 1,
    markLine: {silent: true, symbol: 'none', label: {show: false}, animation: false, lineStyle: {color: '#b8b8b8', width: 1, type: 'solid'},
      data: [[{coord: [-0.04, -0.04]}, {coord: [1.0, 1.0]}]]}});
}
dPanel([54, 307, 224, 476], [[dCtrlBlue, C_DB, 2.4], [dCtrlGreen, C_DG, 9], [dCtrlLight, C_DL, 9], [dCtrlYellow, C_DY, 9], [dCtrlOrange, C_DO, 7], [dCtrlRed, C_DR, 7]]);
dPanel([56, 551, 227, 720], [[dCycBlue, C_DB, 2.4], [dCycGreen, C_DG, 9], [dCycLight, C_DL, 9], [dCycYellow, C_DY, 8], [dCycOrange, C_DO, 7], [dCycRed, C_DR, 6]]);
// ----- E -----
const eCols = [[323, 453], [466, 596], [608, 738]];
const eRows = [[307, 437], [447, 578], [588, 719]];
const eData = [
  [[e780NormBlue, e780NormGreen, e780NormYellow, e780NormRed], [e780SerumBlue, e780SerumGreen, e780SerumYellow, e780SerumRed], [e780CdkBlue, e780CdkGreen, e780CdkYellow, e780CdkRed]],
  [[e807NormBlue, e807NormGreen, e807NormYellow, e807NormRed], [e807SerumBlue, e807SerumGreen, e807SerumYellow, e807SerumRed], [e807CdkBlue, e807CdkGreen, e807CdkYellow, e807CdkRed]],
  [[eKiNormBlue, eKiNormGreen, eKiNormYellow, eKiNormRed], [eKiSerumBlue, eKiSerumGreen, eKiSerumYellow, eKiSerumRed], [eKiCdkBlue, eKiCdkGreen, eKiCdkYellow, eKiCdkRed]]];
eRows.forEach((r, ri) => eCols.forEach((c, ci) => {
  const gi = addGrid([c[0], r[0], c[1], r[1]]);
  const ax = addAxes(gi, [-0.0075, 0.1], [-0.09, 1.0], {labels: ri === 2, vals: ticksEx, fs: 11, margin: 4, minor: steps(0, 0.1, 0.0125)}, {labels: ci === 0, vals: ticksEy, fs: 11, margin: 3});
  const d = eData[ri][ci];
  density(ax, [[d[0], C_DB, 2.5], [d[1], C_DG, 5], [d[2], C_DY, 6], [d[3], C_DR, 5]]);
}));
// ----- F -----
function fPanel(box, bounds, nuc, cyt, color, cytColor) {
  const gi = addGrid(box);
  const ax = addAxes(gi, [0, 30], [-0.04, 1.05], {labels: true, vals: ticksFx, fs: 11, margin: 1, minor: steps(0, 30, 5)}, {labels: true, vals: ticksFy, fs: 11, margin: 4, minor: steps(0, 1, 0.125)});
  const shades = ['#b3b3b3', '#c7c7c7', '#d9d9d9', '#ececec'];
  series.push({type: 'line', xAxisIndex: ax[0], yAxisIndex: ax[1], data: cyt, symbol: 'none', z: 3, animation: false,
    lineStyle: {width: 1, color: cytColor}, itemStyle: {color: cytColor},
    markArea: {silent: true, animation: false, data: phaseNames.map((n, i) => [
      {xAxis: bounds[i], yAxis: 0.02, name: n, itemStyle: {color: shades[i]}},
      {xAxis: bounds[i + 1], yAxis: 1.05}]),
      label: {show: true, position: 'insideTop', distance: 4, fontFamily: FONT, fontSize: 16, color: '#000'}}});
  series.push({type: 'line', xAxisIndex: ax[0], yAxisIndex: ax[1], data: nuc, symbol: 'none', z: 4, animation: false,
    lineStyle: {width: 1.6, color}, itemStyle: {color}});
}
fPanel([57, 790, 228, 965], phaseBoundsI, nucI, cytI, C_OLIVE, '#4b5e22');
fPanel([57, 1016, 228, 1187], phaseBoundsII, nucII, cytII, C_GREEN, C_GREEN);
// ----- G -----
function gPanel(frame, inner, yr, ticks, minor, box, outl, pY, pD) {
  const gi = addGrid(frame);
  addAxes(gi, [0, 1], yr, {labels: false, vals: [], minor: steps(0, 1, 0.0625)}, {labels: true, vals: ticks, fs: 11, margin: 4, minor});
  grids.push({left: inner[0], top: frame[1], width: inner[1] - inner[0], height: frame[3] - frame[1], show: false, containLabel: false, outerBoundsMode: 'none'});
  const g2 = grids.length - 1;
  const xi = xAxes.length, yi = yAxes.length;
  xAxes.push({type: 'category', gridIndex: g2, data: [{value: classes[0], textStyle: {color: C_OLIVE}}, {value: classes[1], textStyle: {color: C_GREEN}}],
    axisLine: {show: false, onZero: false}, axisTick: {show: false}, splitLine: {show: false},
    axisLabel: {fontFamily: FONT, fontSize: 17, margin: 15}});
  yAxes.push({type: 'value', gridIndex: g2, min: yr[0], max: yr[1], show: false});
  series.push({type: 'boxplot', xAxisIndex: xi, yAxisIndex: yi, boxWidth: [32, 32], animation: false, silent: true,
    data: [{value: box[0], itemStyle: {color: C_OLIVE, borderColor: '#b5b5b5', borderWidth: 1.2}},
           {value: box[1], itemStyle: {color: C_GREEN, borderColor: '#b5b5b5', borderWidth: 1.2}}]});
  series.push({type: 'scatter', xAxisIndex: xi, yAxisIndex: yi, data: outl, symbolSize: 2.5, itemStyle: {color: '#000'}, silent: true, animation: false});
  series.push({type: 'custom', xAxisIndex: xi, yAxisIndex: yi, data: [[0, pY, 1, pD]], clip: false, silent: true, animation: false, z: 5,
    renderItem: (p, api) => {
      const y = api.value(1), d = api.value(3);
      const a = api.coord([0, y]), b = api.coord([1, y]);
      const a2 = api.coord([0, y - d]), b2 = api.coord([1, y - d]);
      return {type: 'group', children: [
        {type: 'polyline', shape: {points: [a2, a, b, b2]}, style: {stroke: '#000', lineWidth: 1.6, fill: null}},
        {type: 'text', x: (a[0] + b[0]) / 2, y: a[1] - 3, style: {text: pText, fontFamily: FONT, fontSize: 16, fill: '#000', align: 'center', verticalAlign: 'bottom'}}]};
    }});
}
gPanel([326, 791, 497, 962], [341, 481], [1.1, 24.4], ticksG1y, steps(2, 24, 1), g1Box, g1Outliers, 21.1, 0.7);
gPanel([325, 1016, 497, 1188], [341, 481], [0, 0.865], ticksG2y, steps(0, 0.85, 0.05), cycBox, cycOutliers, 0.755, 0.025);
// ----- H -----
{
  const gi = addGrid([564, 791, 737, 962]);
  const ax = addAxes(gi, [0, 13], [0, 13], {labels: true, vals: ticksH, fs: 12, margin: 4, minor: steps(0, 13, 1)}, {labels: true, vals: ticksH, fs: 12, margin: 2, minor: steps(0, 13, 1)});
  scatter(ax, hSis2II, '#9a9a9a', 2.5, 3, 'sister 2 in class II');
  scatter(ax, hBothI, C_OLIVE, 3.5, 4, 'both sisters in class I');
}
// ----- I -----
{
  const gi = addGrid([566, 1017, 737, 1187]);
  const ax = addAxes(gi, [-0.05, 1.05], [-0.04, 1.045], {labels: true, vals: ticksI, fs: 12, margin: 2, minor: steps(0, 1, 0.05)}, {labels: true, vals: ticksI, fs: 12, margin: 4, minor: steps(0, 1, 0.05)});
  scatter(ax, iBothII, C_GREEN, 2.6, 3);
  scatter(ax, iMixed, '#8f8f8f', 3.5, 4);
  scatter(ax, iBothI, '#36421a', 3.5, 5);
}

// ----- texts -----
[['A', 3, 4], ['B', 252, 4], ['C', 506, 4], ['D', 5, 278], ['E', 262, 278], ['F', 3, 778], ['G', 260, 778], ['H', 527, 776], ['I', 527, 991]]
  .forEach(l => T(l[1], l[2], l[0], {bold: true, size: 17, align: 'left', va: 'top'}));
T(21, 103, 'norm. proliferation\n(#cells 6h = 1)', {rot: VERT, size: 15, lh: 14});
T(140, 226, 'time (h)');
T(285, 115, 'G1 length of\ndaughter cells (h)', {rot: VERT, lh: 18});
T(407, 234, 'maternal nuclear cyclin D1\nlevel before mitosis (a.u.)', {lh: 19});
T(338, 190, 'ρ = -0.25', {size: 14, color: '#7a7a7a', align: 'left'});
T(420, 190, 'ρ = -0.14', {size: 14, color: C_GREEN, align: 'left'});
T(535, 112, 'Spearman correlation', {rot: VERT});
T(653, 227, 'time after mitosis (h)');
T(139, 294, 'esi-control');
T(140, 540, 'esi-cyclin D1');
T(17, 392, 'cytoplasmic level (a.u.)', {rot: VERT});
T(17, 636, 'cytoplasmic level (a.u.)', {rot: VERT});
T(141, 503, 'nuclear level (a.u.)');
T(143, 747, 'nuclear level (a.u.)');
T(60, 321, 'CDK2 active', {bold: true, size: 13, align: 'left'});
T(219, 468, 'CDK2 inactive', {bold: true, size: 13, align: 'right'});
T(61, 564, 'CDK2 active', {bold: true, size: 13, align: 'left'});
T(219, 711, 'CDK2 inactive', {bold: true, size: 13, align: 'right'});
T(387, 283, 'normal\nproliferation', {lh: 20});
T(532, 283, 'serum\nstarvation', {lh: 20});
T(673, 283, 'CDK4\ninhibitor', {lh: 20});
T(285, 367, 'pRb 780', {rot: VERT});
T(285, 507, 'pRb 807/811', {rot: VERT});
T(283, 648, 'Ki67', {rot: VERT});
[388, 531, 673].forEach(x => T(x, 747, 'mRuby-PCNA'));
T(15, 878, 'cyclin D1 level (a.u.)', {rot: VERT});
T(15, 1100, 'cyclin D1 level (a.u.)', {rot: VERT});
T(140, 986, 'time (h)');
T(140, 1210, 'time (h)');
T(163, 891, 'nucleus', {bold: true, size: 14, align: 'left', color: C_OLIVE});
T(160, 941, 'cytoplasm', {size: 14, align: 'left', color: '#4b5e22'});
T(293, 873, 'length of G1 (h)', {rot: VERT});
T(292, 1100, 'initial cyclin D1 level (a.u.)', {rot: VERT});
T(265, 985, 'class:', {align: 'left'});
T(265, 1211, 'class:', {align: 'left'});
T(647, 802, 'length of G1');
T(526, 878, 'sister 2 (h)', {rot: VERT});
T(652, 986, 'sister 1 in class I (h)');
T(648, 1032, 'initial cyclin D1 level');
T(526, 1105, 'sister 2 (a.u.)', {rot: VERT});
T(655, 1212, 'sister 1 (a.u.)');
T(577, 1176, 'ρ = 0.92', {size: 14, align: 'left', color: '#333'});
T(728, 1159, '– both sisters', {size: 14, align: 'right', color: C_GREEN});
T(728, 1176, 'in class II', {size: 14, align: 'right', color: C_GREEN});
// badges
graphics.push({type: 'rect', shape: {x: 206, y: 795, width: 20, height: 17}, style: {fill: C_OLIVE}, z: 100});
T(216, 804, 'I', {size: 15, color: '#fff'});
graphics.push({type: 'rect', shape: {x: 206, y: 1019, width: 20, height: 17}, style: {fill: C_GREEN}, z: 100});
T(216, 1028, 'II', {size: 15, color: '#fff'});

const legendBase = {orient: 'vertical', icon: 'rect', itemWidth: 8, itemHeight: 2, itemGap: 0, padding: 0, selectedMode: false,
  textStyle: {fontFamily: FONT, fontSize: 14, lineHeight: 14, padding: [0, 0, 0, -3]}};
const legends = [
  Object.assign({}, legendBase, {left: 60, top: 38, data: [
    {name: 'esi-control', textStyle: {color: C_GRAY}}, {name: 'esi-nucleolin', textStyle: {color: C_BLUE}}, {name: 'esi-cyclin D1', textStyle: {color: C_GREEN}}]}),
  Object.assign({}, legendBase, {left: 380, top: 39, data: [
    {name: 'overexpression', textStyle: {color: C_GREEN}}, {name: 'control', textStyle: {color: C_GRAY}}]}),
  Object.assign({}, legendBase, {left: 626, top: 39, data: [
    {name: 'overexpression', textStyle: {color: C_GREEN}}, {name: 'control', textStyle: {color: C_GRAY}}]}),
  Object.assign({}, legendBase, {left: 575, top: 931, data: [
    {name: 'both sisters in class I', textStyle: {color: C_OLIVE}}, {name: 'sister 2 in class II', textStyle: {color: '#9a9a9a'}}]})
];

const chart = echarts.init(document.getElementById('chart'), null, {renderer: 'canvas'});
chart.setOption({
  animation: false, backgroundColor: '#fff',
  textStyle: {fontFamily: FONT},
  grid: grids, xAxis: xAxes, yAxis: yAxes, series, legend: legends,
  graphic: {elements: graphics}
});
</script></body></html>
